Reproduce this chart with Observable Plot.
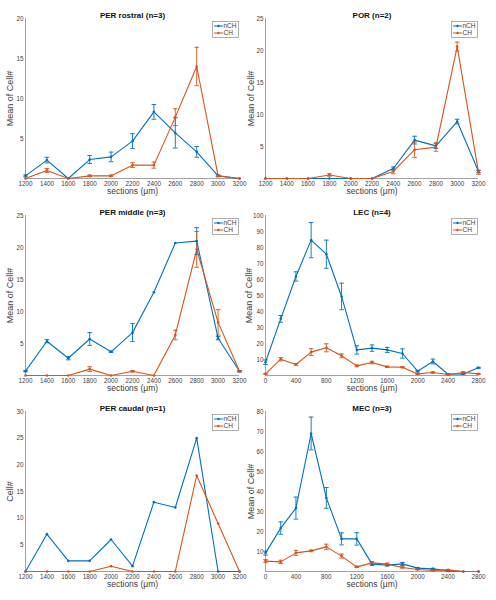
<!DOCTYPE html>
<html>
<head>
<meta charset="utf-8">
<script src="https://cdn.jsdelivr.net/npm/d3@7"></script>
<script src="https://cdn.jsdelivr.net/npm/@observablehq/plot@0.6"></script>
<style>
  html, body { margin: 0; padding: 0; background: #fff; }
  #fig { position: relative; width: 496px; height: 600px; overflow: hidden; font-family: "Liberation Sans", Arial, sans-serif; }
  .panel { position: absolute; }
  .panel svg { overflow: visible; }
  .legend { position: absolute; }
</style>
</head>
<body>
<div id="fig"></div>
<script>
// ---- data ----
const xPer = [1200, 1400, 1600, 1800, 2000, 2200, 2400, 2600, 2800, 3000, 3200];
const xEc = [0, 200, 400, 600, 800, 1000, 1200, 1400, 1600, 1800, 2000, 2200, 2400, 2600, 2800];
const seriesNames = ["nCH", "CH"];
const seriesColors = ["#0072BD", "#D95319"];

const rostralNch = [0.33, 2.3, 0, 2.37, 2.7, 4.67, 8.33, 5.7, 3.33, 0.33, 0];
const rostralNchErr = [0.12, 0.35, 0, 0.5, 0.6, 0.93, 0.92, 1.9, 0.67, 0.1, 0];
const rostralCh = [0, 1.0, 0, 0.33, 0.33, 1.67, 1.67, 7.67, 14.0, 0.33, 0];
const rostralChErr = [0, 0.25, 0, 0.1, 0.1, 0.3, 0.38, 1.05, 2.4, 0.1, 0];

const porNch = [0, 0, 0, 0, 0, 0, 1.56, 6.0, 5.1, 8.9, 1.1];
const porNchErr = [0, 0, 0, 0, 0, 0, 0.25, 0.6, 0.4, 0.35, 0.2];
const porCh = [0, 0, 0, 0.55, 0, 0, 1.1, 4.5, 4.9, 20.6, 0.95];
const porChErr = [0, 0, 0, 0.2, 0, 0, 0.36, 1.2, 0.65, 0.7, 0.3];

const middleNch = [0.68, 5.36, 2.7, 5.7, 3.7, 6.7, 13.0, 20.7, 21.0, 5.83, 0.67];
const middleNchErr = [0.1, 0.25, 0.25, 1.0, 0.1, 1.4, 0, 0, 2.1, 0.25, 0.1];
const middleCh = [0, 0, 0, 1.0, 0, 0.67, 0, 6.33, 19.7, 8.3, 0.67];
const middleChErr = [0, 0, 0, 0.37, 0, 0.12, 0, 0.75, 2.8, 2.0, 0.1];

const lecNch = [8.3, 35.4, 61.9, 84.6, 75.8, 49.4, 16.0, 17.1, 16.0, 13.75, 2.7, 8.75, 0.8, 1.0, 4.8];
const lecNchErr = [1.4, 2.1, 2.9, 11, 8.8, 8.3, 2.6, 2.0, 1.6, 2.9, 0.5, 1.5, 0.3, 0.3, 0.3];
const lecCh = [1.0, 10.2, 6.9, 14.6, 17.3, 12.3, 6.0, 8.1, 5.4, 5.2, 1.0, 1.9, 0.6, 1.9, 1.0];
const lecChErr = [0.2, 1.0, 0.5, 2.1, 2.5, 1.2, 0.5, 0.8, 0.4, 0.4, 0.3, 0.4, 0.2, 0.5, 0.2];

const caudalNch = [0, 7, 2, 2, 6, 1, 13, 12, 25, 0, 0];
const caudalCh = [0, 0, 0, 0, 1, 0, 0, 0, 18, 9, 0];

const mecNch = [9.2, 21.7, 31.7, 69, 36.8, 16.3, 16.3, 3.7, 3.2, 3.8, 1.7, 1.3, 0.3, 0, 0];
const mecNchErr = [1.0, 3.1, 5.5, 8.2, 5.2, 3.0, 3.1, 0.7, 0.5, 0.75, 0.3, 0.3, 0.2, 0, 0];
const mecCh = [5.2, 4.8, 9.3, 10.3, 12.3, 7.7, 2.3, 4.3, 3.7, 2.0, 1.0, 0.5, 0.8, 0, 0];
const mecChErr = [0.75, 0.85, 1.25, 0.4, 1.35, 1.0, 0.3, 0.65, 0.5, 0.3, 0.2, 0.2, 0.2, 0, 0];

const titles = ["PER rostral (n=3)", "POR (n=2)", "PER middle (n=3)", "LEC (n=4)", "PER caudal (n=1)", "MEC (n=3)"];
const yLabels = ["Mean of Cell#", "Mean of Cell#", "Mean of Cell#", "Mean of Cell#", "Cell#", "Mean of Cell#"];
const xLabel = "sections (\u03bcm)";
const perXTicks = xPer;
const ecXTicks = [0, 400, 800, 1200, 1600, 2000, 2400, 2800];
const yTicks = [
  [5, 10, 15, 20],
  [5, 10, 15, 20, 25],
  [5, 10, 15, 20, 25],
  [10, 20, 30, 40, 50, 60, 70, 80, 90, 100],
  [5, 10, 15, 20, 25, 30],
  [10, 20, 30, 40, 50, 60, 70, 80]
];
const yMax = [20, 25, 25, 100, 30, 80];

// ---- panels ----
const panels = [
  {x: xPer, xTicks: perXTicks, series: [[rostralNch, rostralNchErr], [rostralCh, rostralChErr]], left: 0, top: 0, h: 196, mt: 18, mb: 18, ml: 25, mr: 9, ylDx: -15},
  {x: xPer, xTicks: perXTicks, series: [[porNch, porNchErr], [porCh, porChErr]], left: 248, top: 0, h: 196, mt: 18, mb: 18, ml: 17, mr: 18, ylDx: -14},
  {x: xPer, xTicks: perXTicks, series: [[middleNch, middleNchErr], [middleCh, middleChErr]], left: 0, top: 196, h: 196, mt: 19, mb: 17, ml: 25, mr: 9, ylDx: -15},
  {x: xEc, xTicks: ecXTicks, series: [[lecNch, lecNchErr], [lecCh, lecChErr]], left: 248, top: 196, h: 196, mt: 19, mb: 17, ml: 17, mr: 18, ylDx: -16.5},
  {x: xPer, xTicks: perXTicks, series: [[caudalNch, null], [caudalCh, null]], left: 0, top: 392, h: 208, mt: 19, mb: 29, ml: 25, mr: 9, ylDx: -15},
  {x: xEc, xTicks: ecXTicks, series: [[mecNch, mecNchErr], [mecCh, mecChErr]], left: 248, top: 392, h: 208, mt: 19, mb: 29, ml: 17, mr: 18, ylDx: -14.5}
];

const fig = document.getElementById("fig");
const W = 248;
const axisColor = "#8a8a8a";
const textColor = "#404040";

panels.forEach((p, k) => {
  const rows = [];
  p.series.forEach(([vals, errs], s) => {
    vals.forEach((v, i) => rows.push({x: p.x[i], y: v, e: errs ? errs[i] : 0, s: seriesNames[s]}));
  });
  const errRows = rows.filter(d => d.e > 0);
  const xDom = [p.x[0], p.x[p.x.length - 1]];
  const plotW = W - p.ml - p.mr;
  const cap = 2.3 * (xDom[1] - xDom[0]) / plotW;

  const chart = Plot.plot({
    width: W,
    height: p.h,
    marginLeft: p.ml,
    marginRight: p.mr,
    marginTop: p.mt,
    marginBottom: p.mb,
    style: {fontFamily: "'Liberation Sans', Arial, sans-serif", fontSize: "6.3px", color: textColor, background: "transparent", overflow: "visible"},
    x: {domain: xDom},
    y: {domain: [0, yMax[k]]},
    color: {domain: seriesNames, range: seriesColors},
    marks: [
      Plot.axisX({ticks: p.xTicks, tickSize: 0, tickPadding: 3, tickFormat: d => String(d), label: null, fill: textColor}),
      Plot.axisY({ticks: yTicks[k], tickSize: 0, tickPadding: 2, tickFormat: d => String(d), label: null, fill: textColor}),
      Plot.ruleY([0], {stroke: axisColor, strokeWidth: 0.8}),
      Plot.ruleX([xDom[0]], {stroke: axisColor, strokeWidth: 0.8}),
      Plot.ruleX(errRows, {x: "x", y1: d => d.y - d.e, y2: d => d.y + d.e, stroke: "s", strokeWidth: 0.9}),
      Plot.link(errRows, {x1: d => d.x - cap, x2: d => d.x + cap, y1: d => d.y + d.e, y2: d => d.y + d.e, stroke: "s", strokeWidth: 0.9}),
      Plot.link(errRows, {x1: d => d.x - cap, x2: d => d.x + cap, y1: d => d.y - d.e, y2: d => d.y - d.e, stroke: "s", strokeWidth: 0.9}),
      Plot.line(rows, {x: "x", y: "y", z: "s", stroke: "s", strokeWidth: 1.1}),
      Plot.dot(rows, {x: "x", y: "y", fill: "s", r: 1.3}),
      Plot.text([titles[k]], {frameAnchor: "top", dy: -6, fontWeight: "bold", fontSize: 8, fill: "#111", textAnchor: "middle"}),
      Plot.text([xLabel], {frameAnchor: "bottom", dy: 15, fontSize: 8.5, fill: textColor, textAnchor: "middle"}),
      Plot.text([yLabels[k]], {frameAnchor: "left", dx: p.ylDx, rotate: -90, fontSize: 9, fill: textColor, textAnchor: "middle"})
    ]
  });

  const div = document.createElement("div");
  div.className = "panel";
  div.style.left = p.left + "px";
  div.style.top = p.top + "px";
  div.appendChild(chart);
  fig.appendChild(div);

  // legend box
  const lw = 27, lh = 17;
  const lx = p.left + W - p.mr - lw;
  const ly = p.top + p.mt + 3;
  const leg = d3.create("svg").attr("class", "legend")
    .attr("width", lw).attr("height", lh)
    .style("left", lx + "px").style("top", ly + "px");
  leg.append("rect").attr("x", 0.5).attr("y", 0.5).attr("width", lw - 1).attr("height", lh - 1)
    .attr("fill", "#fff").attr("stroke", "#9a9a9a").attr("stroke-width", 0.8);
  seriesNames.forEach((name, i) => {
    const yy = 5 + i * 7;
    leg.append("line").attr("x1", 2).attr("x2", 11).attr("y1", yy).attr("y2", yy)
      .attr("stroke", seriesColors[i]).attr("stroke-width", 1);
    leg.append("circle").attr("cx", 6.5).attr("cy", yy).attr("r", 1.2).attr("fill", seriesColors[i]);
    leg.append("text").attr("x", 11.5).attr("y", yy + 2.2).attr("font-size", 6.5)
      .attr("font-family", "'Liberation Sans', Arial, sans-serif").attr("fill", textColor).text(name);
  });
  fig.appendChild(leg.node());
});
</script>
</body>
</html>
